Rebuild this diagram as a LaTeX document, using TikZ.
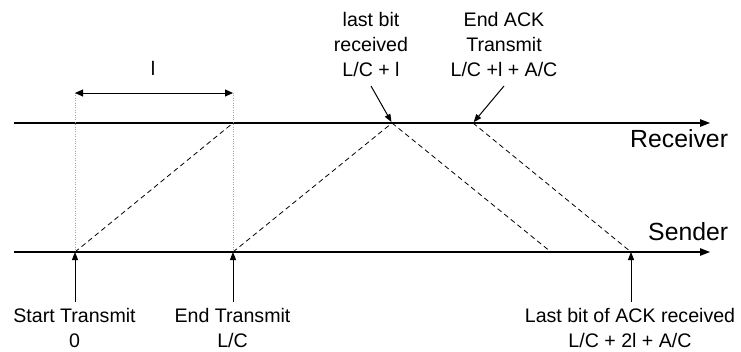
\documentclass[tikz,border=0pt]{standalone}
\usepackage{fontspec}
\setmainfont{Liberation Sans}
\usetikzlibrary{arrows.meta}
\begin{document}
\begin{tikzpicture}[x=1pt,y=-1pt,
  lbl/.style={font=\fontsize{19.6}{25}\selectfont, align=center, inner xsep=0pt},
  axname/.style={font=\fontsize{24.8}{28}\selectfont, inner sep=0pt, anchor=base west},
  axis/.style={line width=1.2pt, -{Triangle[length=10pt,width=7.5pt]}},
  sig/.style={line width=0.8pt, dash pattern=on 5pt off 3.5pt},
  guide/.style={line width=0.7pt, gray!70, dash pattern=on 0.8pt off 1.6pt},
  pointer/.style={line width=1pt, -{Triangle[length=8pt,width=6pt]}}]
\useasboundingbox (0,0) rectangle (741,351);
% axes
\coordinate (r0) at (14,123);
\coordinate (r1) at (710,123);
\coordinate (s0) at (14,252);
\coordinate (s1) at (710,252);
\draw[axis] (r0) -- (r1);
\draw[axis] (s0) -- (s1);
\node[axname] (recv) at (630,147) {Receiver};
\node[axname] (send) at (648,240) {Sender};
% event points
\coordinate (A) at (233,123);
\coordinate (B) at (392,123);
\coordinate (C) at (473,123);
\coordinate (S0) at (75,252);
\coordinate (S1) at (233,252);
\coordinate (S2) at (551,252);
\coordinate (S3) at (631,252);
% guides
\coordinate (g0) at (75,93);
\coordinate (g1) at (233,93);
\draw[guide] (g0) -- (S0);
\draw[guide] (g1) -- (S1);
\draw[line width=1pt, {Triangle[length=8pt,width=7pt]}-{Triangle[length=8pt,width=7pt]}] (g0) -- (g1);
\node[lbl, inner ysep=0pt] (ell) at (153,68) {l};
% signals
\draw[sig] (S0) -- (A);
\draw[sig] (S1) -- (B);
\draw[sig] (B) -- (S2);
\draw[sig] (C) -- (S3);
% top labels
\node[lbl, anchor=south, inner ysep=9pt] (lastbit) at (371,86) {last bit\\received\\L/C + l};
\node[lbl, anchor=south, inner ysep=9pt] (endack) at (504,86) {End ACK\\Transmit\\L/C +l + A/C};
\draw[pointer, shorten >=1pt] (lastbit.south) -- (B);
\draw[pointer, shorten >=1pt] (endack.south) -- (C);
% bottom labels
\node[lbl, anchor=north, inner ysep=6pt] (start) at (74.5,302) {Start Transmit\\0};
\node[lbl, anchor=north, inner ysep=6pt] (endtx) at (232.5,302) {End Transmit\\L/C};
\node[lbl, anchor=north, inner ysep=6pt] (lastack) at (630,302) {Last bit of ACK received\\L/C + 2l + A/C};
\draw[pointer] ([xshift=0.5pt]start.north) -- (S0);
\draw[pointer] ([xshift=0.5pt]endtx.north) -- (S1);
\draw[pointer] ([xshift=1pt]lastack.north) -- (S3);
\end{tikzpicture}
\end{document}
